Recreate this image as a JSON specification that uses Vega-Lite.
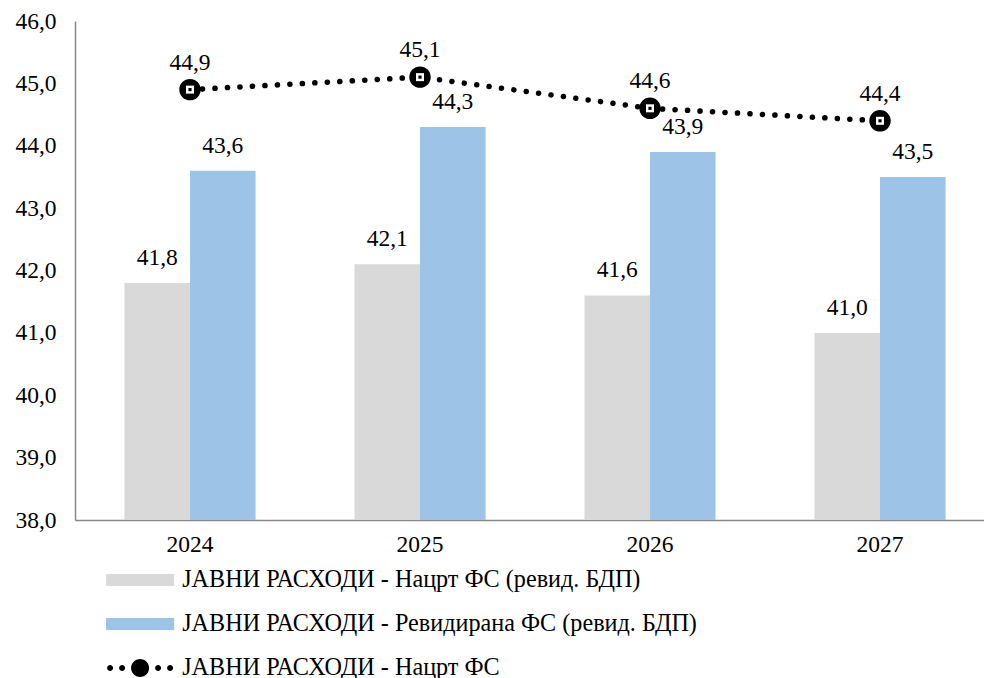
{
  "$schema": "https://vega.github.io/schema/vega-lite/v6.json",
  "width": 909,
  "height": 499,
  "autosize": {"type": "none"},
  "padding": {"left": 75, "top": 21, "right": 0, "bottom": 158},
  "background": "white",
  "data": {"values": [
    {"year": "2024", "series": "ЈАВНИ РАСХОДИ - Нацрт ФС (ревид. БДП)", "value": 41.8},
    {"year": "2025", "series": "ЈАВНИ РАСХОДИ - Нацрт ФС (ревид. БДП)", "value": 42.1},
    {"year": "2026", "series": "ЈАВНИ РАСХОДИ - Нацрт ФС (ревид. БДП)", "value": 41.6},
    {"year": "2027", "series": "ЈАВНИ РАСХОДИ - Нацрт ФС (ревид. БДП)", "value": 41.0},
    {"year": "2024", "series": "ЈАВНИ РАСХОДИ - Ревидирана ФС (ревид. БДП)", "value": 43.6},
    {"year": "2025", "series": "ЈАВНИ РАСХОДИ - Ревидирана ФС (ревид. БДП)", "value": 44.3},
    {"year": "2026", "series": "ЈАВНИ РАСХОДИ - Ревидирана ФС (ревид. БДП)", "value": 43.9},
    {"year": "2027", "series": "ЈАВНИ РАСХОДИ - Ревидирана ФС (ревид. БДП)", "value": 43.5},
    {"year": "2024", "series": "ЈАВНИ РАСХОДИ - Нацрт ФС", "value": 44.9},
    {"year": "2025", "series": "ЈАВНИ РАСХОДИ - Нацрт ФС", "value": 45.1},
    {"year": "2026", "series": "ЈАВНИ РАСХОДИ - Нацрт ФС", "value": 44.6},
    {"year": "2027", "series": "ЈАВНИ РАСХОДИ - Нацрт ФС", "value": 44.4}
  ]},
  "config": {
    "view": {"stroke": null},
    "font": "'Liberation Serif', 'Times New Roman', serif",
    "text": {"font": "'Liberation Serif', 'Times New Roman', serif"},
    "locale": {"number": {"decimal": ",", "thousands": ".", "grouping": [3], "currency": ["", ""]}},
    "axis": {
      "domainColor": "#898989",
      "domainWidth": 1.5,
      "ticks": false,
      "grid": false,
      "labelFont": "'Liberation Serif', 'Times New Roman', serif",
      "labelFontSize": 23.5,
      "labelColor": "#000000",
      "title": null
    }
  },
  "encoding": {
    "x": {
      "field": "year",
      "type": "ordinal",
      "scale": {"range": [0, 920], "paddingInner": 0.43, "paddingOuter": 0.215},
      "axis": {"labelAngle": 0, "labelPadding": 12}
    },
    "y": {
      "field": "value",
      "type": "quantitative",
      "scale": {"domain": [38, 46], "nice": false, "zero": false},
      "axis": {"values": [38, 39, 40, 41, 42, 43, 44, 45, 46], "format": ".1f", "labelPadding": 19}
    }
  },
  "layer": [
    {
      "transform": [{"filter": "datum.series !== 'ЈАВНИ РАСХОДИ - Нацрт ФС'"}],
      "mark": {"type": "bar"},
      "encoding": {
        "y2": {"datum": 38},
        "xOffset": {"field": "series", "type": "nominal", "sort": null},
        "color": {
          "field": "series",
          "type": "nominal",
          "scale": {
            "domain": ["ЈАВНИ РАСХОДИ - Нацрт ФС (ревид. БДП)", "ЈАВНИ РАСХОДИ - Ревидирана ФС (ревид. БДП)", "ЈАВНИ РАСХОДИ - Нацрт ФС"],
            "range": ["#D9D9D9", "#9DC3E6", "#000000"]
          },
          "legend": {
            "title": null,
            "orient": "none",
            "direction": "vertical",
            "legendX": 53,
            "legendY": 547,
            "padding": 0,
            "labelFont": "'Liberation Serif', 'Times New Roman', serif",
            "labelFontSize": 24.2,
            "labelColor": "#000000",
            "labelLimit": 1000,
            "labelOffset": 30,
            "symbolSize": 144,
            "symbolStrokeWidth": 0,
            "rowPadding": 19,
            "encode": {
              "symbols": {
                "update": {
                  "shape": {"signal": "datum.value === 'ЈАВНИ РАСХОДИ - Нацрт ФС' ? 'M-5.5,0a0.5,0.5 0 1,0 1,0a0.5,0.5 0 1,0 -1,0ZM-3.5,0a0.5,0.5 0 1,0 1,0a0.5,0.5 0 1,0 -1,0ZM2.5,0a0.5,0.5 0 1,0 1,0a0.5,0.5 0 1,0 -1,0ZM4.5,0a0.5,0.5 0 1,0 1,0a0.5,0.5 0 1,0 -1,0ZM-1.5,0a1.5,1.5 0 1,0 3,0a1.5,1.5 0 1,0 -3,0Z' : 'M-5.67,-1H5.67V1H-5.67Z'"},
                  "strokeWidth": {"value": 0}
                }
              }
            }
          }
        }
      }
    },
    {
      "transform": [{"filter": "datum.series !== 'ЈАВНИ РАСХОДИ - Нацрт ФС'"}],
      "mark": {"type": "text", "baseline": "alphabetic", "dy": -18, "fontSize": 23.5, "color": "#000000", "font": "'Liberation Serif', 'Times New Roman', serif"},
      "encoding": {
        "xOffset": {"field": "series", "type": "nominal", "sort": null},
        "text": {"field": "value", "type": "quantitative", "format": ".1f"}
      }
    },
    {
      "transform": [{"filter": "datum.series === 'ЈАВНИ РАСХОДИ - Нацрт ФС'"}],
      "mark": {"type": "line", "color": "#000000", "strokeWidth": 5.5, "strokeCap": "round", "strokeDash": [0.1, 12.4]},
      "encoding": {}
    },
    {
      "transform": [{"filter": "datum.series === 'ЈАВНИ РАСХОДИ - Нацрт ФС'"}],
      "mark": {"type": "point", "shape": "circle", "filled": true, "color": "#000000", "size": 460, "opacity": 1},
      "encoding": {}
    },
    {
      "transform": [{"filter": "datum.series === 'ЈАВНИ РАСХОДИ - Нацрт ФС'"}],
      "mark": {"type": "point", "shape": "square", "filled": true, "color": "#FFFFFF", "size": 64, "opacity": 1},
      "encoding": {}
    },
    {
      "transform": [{"filter": "datum.series === 'ЈАВНИ РАСХОДИ - Нацрт ФС'"}],
      "mark": {"type": "point", "shape": "square", "filled": true, "color": "#000000", "size": 10, "opacity": 1},
      "encoding": {}
    },
    {
      "transform": [{"filter": "datum.series === 'ЈАВНИ РАСХОДИ - Нацрт ФС'"}],
      "mark": {"type": "text", "baseline": "alphabetic", "dy": -20, "fontSize": 23.5, "color": "#000000", "font": "'Liberation Serif', 'Times New Roman', serif"},
      "encoding": {
        "text": {"field": "value", "type": "quantitative", "format": ".1f"}
      }
    }
  ]
}
